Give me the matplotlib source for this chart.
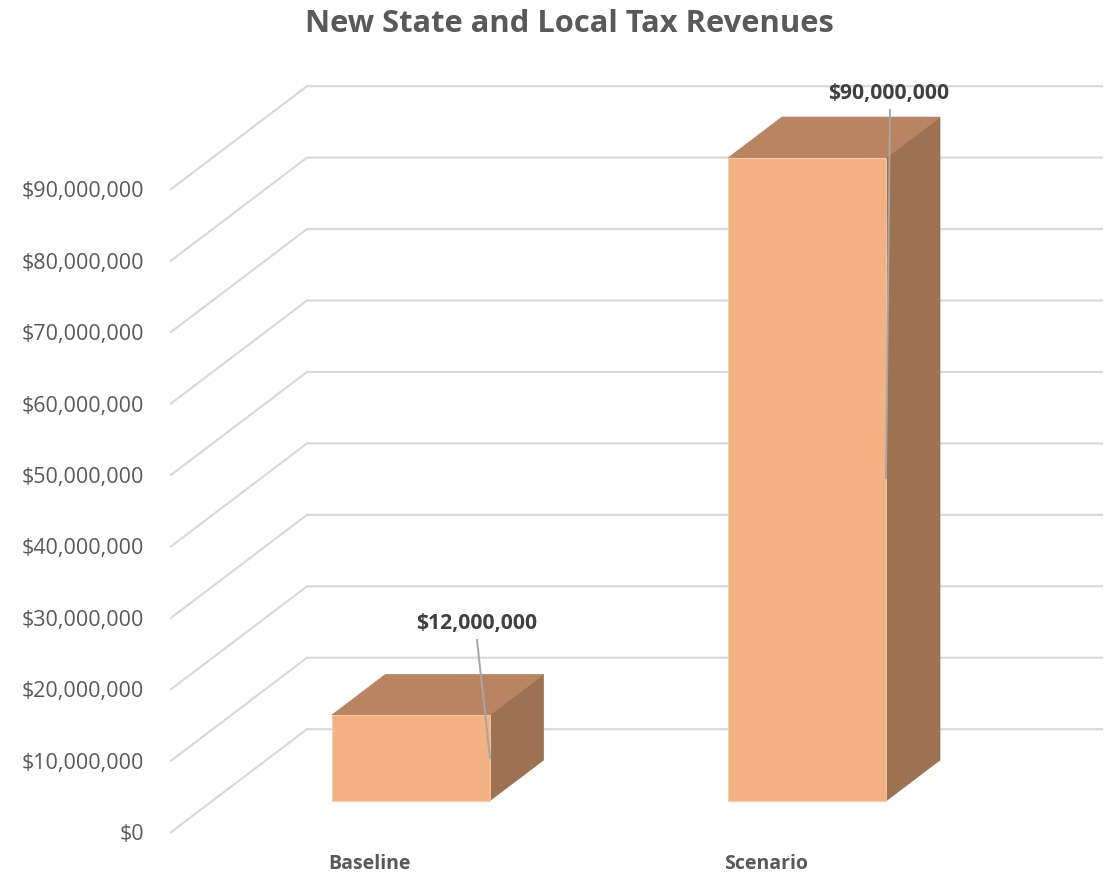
import matplotlib
matplotlib.use("Agg")
import matplotlib.pyplot as plt
from matplotlib.patches import Polygon

categories = ["Baseline", "Scenario"]
revenues = [12_000_000, 90_000_000]
tick_values = [0, 10_000_000, 20_000_000, 30_000_000, 40_000_000,
               50_000_000, 60_000_000, 70_000_000, 80_000_000, 90_000_000]
tick_labels = ["$0", "$10,000,000", "$20,000,000", "$30,000,000", "$40,000,000",
               "$50,000,000", "$60,000,000", "$70,000,000", "$80,000,000", "$90,000,000"]

W, H = 1112, 873
FACE = "#F4B183"
TOP = "#B98461"
SIDE = "#9C7253"
GRID = "#D9D9D9"
TEXT = "#595959"
LABEL = "#404040"
FONT = "Open Sans"

fig = plt.figure(figsize=(W / 100, H / 100), dpi=100, facecolor="white")

# Axes frame in figure pixels; the floor runs from the front edge to the back wall.
px_left, px_right, px_base, px_top = 171, 1102, 832.2, 86.7
ax = fig.add_axes([px_left / W, 1 - px_base / H,
                   (px_right - px_left) / W, (px_base - px_top) / H])
px_per_cat = 396.5
px_per_val = 71.45 / 10_000_000
px_center = 369.3
ax.set_xlim((px_left - px_center) / px_per_cat, (px_right - px_center) / px_per_cat)
ax.set_ylim(0, (px_base - px_top) / px_per_val)

# Oblique projection: depth 0 is the front edge, depth 1 the back wall.
depth_x = 136 / px_per_cat
depth_y = 103 / px_per_val


def project(x, value, depth):
    return x + depth * depth_x, value + depth * depth_y


# Gridlines: slanted floor/wall edge, then a run along the back wall.
x_start = ax.get_xlim()[0]
x_end = ax.get_xlim()[1]
for v in tick_values:
    p0 = (x_start, v)
    p1 = project(x_start, v, 1)
    p2 = (x_end, p1[1])
    ax.plot([p0[0], p1[0], p2[0]], [p0[1], p1[1], p2[1]], color=GRID, lw=1.6,
            solid_joinstyle="miter", clip_on=False, zorder=1)

# Boxes sit between these two depths; half_w is half the box width in category units.
d_front, d_back = 0.305, 0.70
half_w = 79 / px_per_cat
for i, val in enumerate(revenues):
    x0, x1 = i - half_w, i + half_w
    fl_b = project(x0, 0, d_front)
    fr_b = project(x1, 0, d_front)
    fr_t = project(x1, val, d_front)
    fl_t = project(x0, val, d_front)
    br_b = project(x1, 0, d_back)
    br_t = project(x1, val, d_back)
    bl_t = project(x0, val, d_back)
    ax.add_patch(Polygon([fr_b, br_b, br_t, fr_t], facecolor=SIDE, edgecolor=SIDE,
                         lw=0.5, zorder=2, clip_on=False))
    ax.add_patch(Polygon([fl_t, fr_t, br_t, bl_t], facecolor=TOP, edgecolor=TOP,
                         lw=0.5, zorder=2, clip_on=False))
    ax.add_patch(Polygon([fl_b, fr_b, fr_t, fl_t], facecolor=FACE, edgecolor="#F8CBAD",
                         lw=0.6, zorder=3, clip_on=False))

# Value labels, each tied to its box by a thin leader line.
label_centers = [(477, 623), (889, 93)]
leader_tops = [(477, 640), (890, 110)]
leader_ends = [(490, 758), (886, 478)]
for val, c, a, b in zip(revenues, label_centers, leader_tops, leader_ends):
    fig.add_artist(plt.Line2D([a[0] / W, b[0] / W], [1 - a[1] / H, 1 - b[1] / H],
                              color="#A6A6A6", lw=1.4, zorder=5))
    fig.text(c[0] / W, 1 - c[1] / H, f"${val:,}", ha="center", va="center",
             fontsize=15.2, fontweight="bold", color=LABEL, family=FONT, zorder=6)

ax.set_yticks(tick_values, tick_labels)
ax.set_xticks(range(len(categories)), categories)
ax.tick_params(axis="y", length=0, pad=19.5, labelsize=15.5, labelcolor=TEXT)
ax.tick_params(axis="x", length=0, pad=15.5, labelsize=14, labelcolor=TEXT)
for t in ax.get_yticklabels():
    t.set_family(FONT)
for t in ax.get_xticklabels():
    t.set_family(FONT)
    t.set_fontweight("bold")

for s in ax.spines.values():
    s.set_visible(False)
ax.patch.set_alpha(0)

fig.text(569 / W, 1 - 24 / H, "New State and Local Tax Revenues", ha="center", va="center",
         fontsize=22.2, fontweight="bold", color=TEXT, family=FONT)

fig.savefig("out.png", dpi=100)
